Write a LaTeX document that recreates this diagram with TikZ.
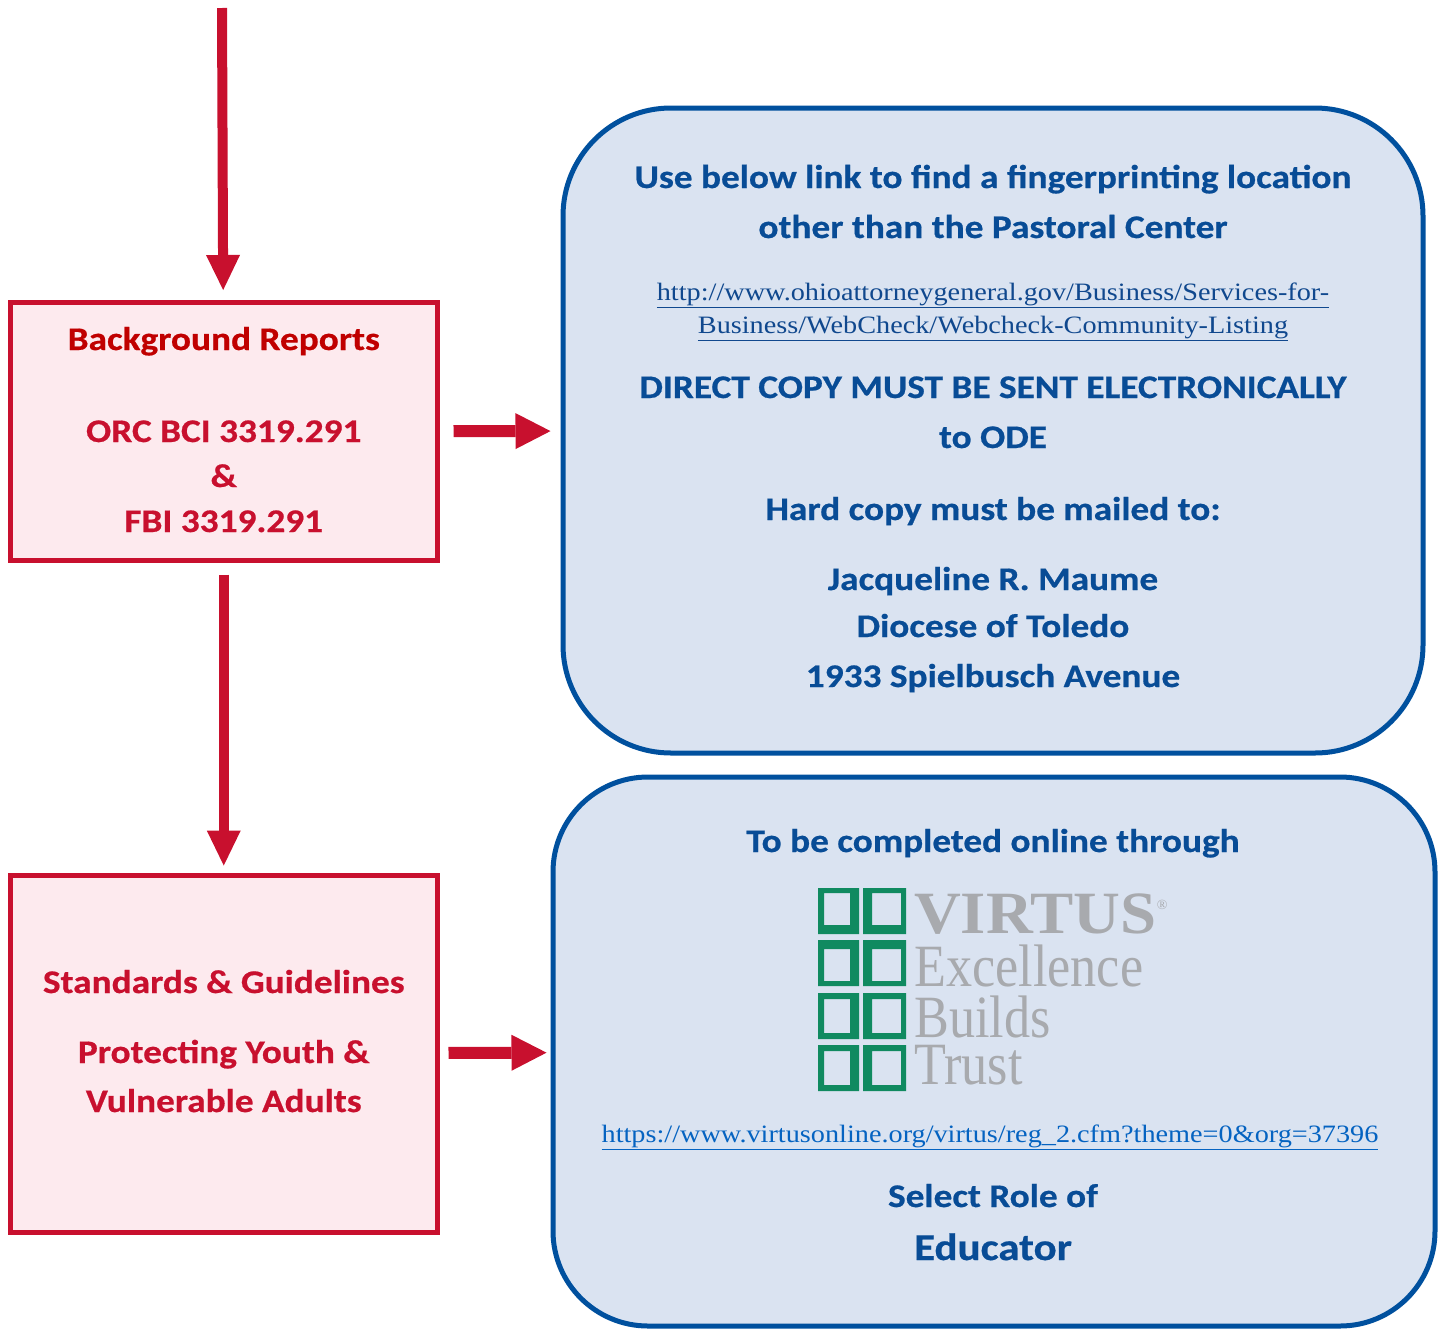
\documentclass[tikz,border=0pt]{standalone}
\usepackage{fontspec}
\setmainfont{Carlito}[FakeStretch=1.13, BoldFeatures={FakeBold=0.6}]
\newfontfamily\linkfont{Liberation Serif}[FakeStretch=1.13]
\newfontfamily\logofont{Liberation Serif}
\usetikzlibrary{arrows.meta}
\definecolor{redline}{RGB}{200,16,46}
\definecolor{redtitle}{RGB}{192,0,0}
\definecolor{pinkfill}{RGB}{253,234,238}
\definecolor{blueline}{RGB}{0,80,158}
\definecolor{bluefill}{RGB}{218,227,241}
\definecolor{bluetext}{RGB}{8,76,150}
\definecolor{linkdark}{RGB}{16,72,142}
\definecolor{linklight}{RGB}{5,99,193}
\definecolor{vgreen}{RGB}{16,138,96}
\definecolor{vgray}{RGB}{168,170,174}
\begin{document}
\begin{tikzpicture}[x=1pt, y=-1pt,
    redbox/.style = {draw=redline, fill=pinkfill, line width=5pt, minimum width=426.5pt},
    bluebox/.style = {draw=blueline, fill=bluefill, line width=5pt},
    redtxt/.style = {anchor=base, inner sep=0pt, text=redline, font=\fontsize{33}{33}\selectfont\bfseries},
    bluetxt/.style = {anchor=base, inner sep=0pt, text=bluetext, font=\fontsize{33}{33}\selectfont\bfseries},
    linktxt/.style = {anchor=base, inner sep=0pt, font=\fontsize{25}{25}\selectfont\linkfont},
    logotxt/.style = {anchor=base west, inner sep=0pt, text height=41pt, text depth=5pt, text=vgray, font=\fontsize{60}{60}\selectfont\logofont},
    arr/.style = {draw=redline, line width=10pt, -{Triangle[width=34pt, length=35pt, line width=0pt]}},
    sidearr/.style = {arr, line width=12pt, -{Triangle[width=36pt, length=35pt, line width=0pt]}}]
    \useasboundingbox (0,0) rectangle (1442,1328);

    % left column
    \coordinate (top) at (222,8);
    \node[redbox, minimum height=258pt] (b1) at (223.75,431.5) {};
    \node[redbox, minimum height=357pt] (b2) at (223.75,1053.5) {};
    \node[redtxt, text=redtitle] (bg) at (223.75,350) {Background Reports};
    \node[redtxt] (orc) at (223.75,442) {ORC BCI 3319.291};
    \node[redtxt] (amp) at (223.75,487) {\&};
    \node[redtxt] (fbi) at (223.75,532) {FBI 3319.291};
    \node[redtxt] (std) at (223.75,993) {Standards \& Guidelines};
    \node[redtxt] (prot) at (223.75,1063) {Protecting Youth \&};
    \node[redtxt] (vuln) at (223.75,1112) {Vulnerable Adults};

    % right column
    \node[bluebox, rounded corners=108pt, minimum width=860pt, minimum height=645pt] (info1) at (993,430.5) {};
    \node[bluebox, rounded corners=95pt, minimum width=882pt, minimum height=549pt] (info2) at (994,1051.5) {};
    \node[bluetxt] (use) at (993,188) {Use below link to find a fingerprinting location};
    \node[bluetxt] (other) at (993,238) {other than the Pastoral Center};
    \node[linktxt, text=linkdark] (ohio1) at (993,300) {\underline{http://www.ohioattorneygeneral.gov/Business/Services-for-}};
    \node[linktxt, text=linkdark] (ohio2) at (993,333) {\underline{Business/WebCheck/Webcheck-Community-Listing}};
    \node[bluetxt] (direct) at (993,398) {DIRECT COPY MUST BE SENT ELECTRONICALLY};
    \node[bluetxt] (ode) at (993,448) {to ODE};
    \node[bluetxt] (hard) at (993,520) {Hard copy must be mailed to:};
    \node[bluetxt] (name) at (993,590) {Jacqueline R. Maume};
    \node[bluetxt] (dioc) at (993,637) {Diocese of Toledo};
    \node[bluetxt] (addr) at (993,687) {1933 Spielbusch Avenue};
    \node[bluetxt] (online) at (993,852) {To be completed online through};
    \node[linktxt, text=linklight] (virtus) at (990,1142) {\underline{https://www.virtusonline.org/virtus/reg\_2.cfm?theme=0\&org=37396}};
    \node[bluetxt] (role) at (993,1207) {Select Role of};
    \node[bluetxt, font=\fontsize{38}{38}\selectfont\bfseries] (educ) at (993,1260) {Educator};

    % logo
    \foreach \y/\t/\b in {888/5/9, 940/9/5, 993/6/6, 1045/6/6} {
        \fill[vgreen, even odd rule] (818,\y) rectangle (859,\y+46) (824,\y+\t) rectangle (850,\y+46-\b);
        \fill[vgreen, even odd rule] (863,\y) rectangle (906,\y+46) (872,\y+\t) rectangle (901,\y+46-\b);
    }
    \node[logotxt] (lv) at (914,933) {\scalebox{1.08}[1]{\bfseries VIRTUS}\raisebox{24pt}{\fontsize{14}{14}\selectfont\textregistered}};
    \node[logotxt] (le) at (914,986) {\scalebox{0.87}[1]{Excellence}};
    \node[logotxt] (lb) at (914,1037) {\scalebox{0.87}[1]{Builds}};
    \node[logotxt] (lt) at (914,1084) {\scalebox{0.87}[1]{Trust}};

    % arrows
    \draw[arr, shorten >=10pt] (top) -- (b1);
    \draw[arr, shorten <=11.5pt, shorten >=7pt] (b1) -- (b2);
    \draw[sidearr, shorten <=14pt, shorten >=10pt] (b1) -- (info1);
    \draw[sidearr, shorten <=9pt, shorten >=4pt] (b2) -- (info2);
\end{tikzpicture}
\end{document}
